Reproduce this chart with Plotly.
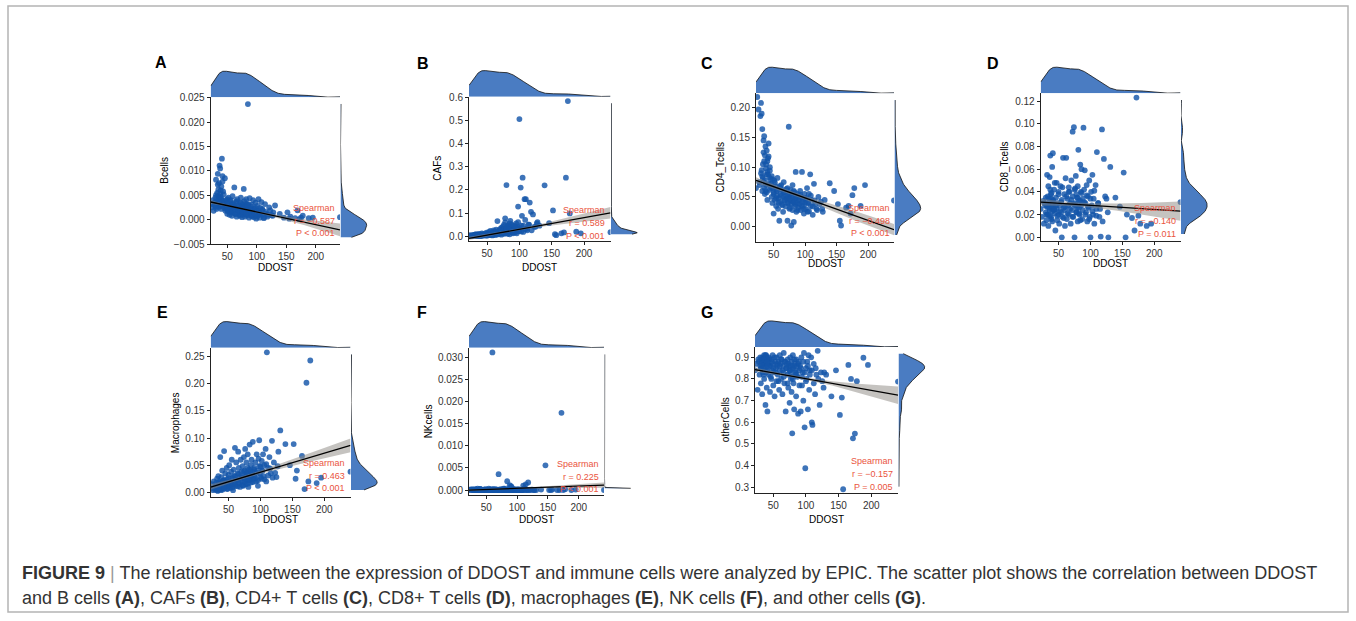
import numpy as np
import plotly.graph_objects as go

W, H = 1356, 621

# ---------------- data ----------------
DDOST = ([22, 24, 26, 27, 29] +
         [30, 30, 31, 32, 32, 33, 34, 34, 35, 36, 36, 37, 38, 38, 39, 40, 40, 41, 42, 43, 44, 45] +
         [46, 47, 47, 48, 49, 50, 50, 51, 52, 53, 54, 55, 55, 56, 57, 58, 59, 60, 60, 61, 62, 63, 64, 65, 66, 66, 67, 68, 69, 70] +
         [71, 72, 72, 73, 74, 75, 75, 76, 77, 78, 78, 79, 80, 80, 81, 82, 83, 84, 85, 85, 86, 87, 88, 89, 90] +
         [91, 92, 93, 94, 95, 96, 97, 98, 99, 100] +
         [101, 102, 103, 104, 105, 106, 108, 109, 110, 112, 114, 116, 118, 121, 125, 128] +
         [131, 139, 146, 152, 155, 157, 165, 169, 172, 175, 178, 188, 195, 241] +
         [28, 31, 33, 35, 37, 39, 41, 43, 44, 46, 48, 50, 52, 54, 56, 58, 60, 62, 64, 66, 68, 70, 72, 74,
          76, 78, 80, 82, 84, 86, 88, 90, 92, 94, 96, 98, 100, 103, 106, 109, 112, 115, 119, 123, 127, 34, 38, 42] +
         [32, 35, 36, 39, 40, 41, 43, 76, 79, 82, 84])

BCELLS = ([0.0032, 0.0025, 0.0040, 0.0018, 0.0035] +
          [0.0028, 0.0045, 0.0082, 0.0022, 0.0038, 0.0055, 0.0030, 0.0094, 0.0048, 0.0075, 0.0026, 0.0111, 0.0105, 0.0036, 0.0060, 0.0068, 0.0042, 0.0125, 0.0089, 0.0033, 0.0052, 0.0024] +
          [0.0085, 0.0030, 0.0018, 0.0040, 0.0025, 0.0012, 0.0035, 0.0020, 0.0045, 0.0028, 0.0010, 0.0038, 0.0022, 0.0015, 0.0032, 0.0008, 0.0048, 0.0026, 0.0014, 0.0030, 0.0066, 0.0020, 0.0012, 0.0036, 0.0024, 0.0006, 0.0042, 0.0018, 0.0028, 0.0010] +
          [0.0022, 0.0035, 0.0008, 0.0045, 0.0015, 0.0026, 0.0005, 0.0030, 0.0018, 0.0063, 0.0012, 0.0038, 0.0020, 0.0006, 0.0028, 0.0042, 0.0010, 0.0024, 0.0237, 0.0016, 0.0032, 0.0004, 0.0044, 0.0014, 0.0022] +
          [0.0008, 0.0030, 0.0016, 0.0040, 0.0005, 0.0022, 0.0012, 0.0035, 0.0002, 0.0018] +
          [0.0028, 0.0008, 0.0042, 0.0014, 0.0004, 0.0024, 0.0036, 0.0010, 0.0020, 0.0003, 0.0032, 0.0012, 0.0006, 0.0025, 0.0009, 0.0015] +
          [0.0029, 0.0012, 0.0004, 0.0015, 0.0002, 0.0006, 0.0003, 0.0019, 0.0001, 0.0004, 0.0008, 0.0003, 0.0004, 0.0005] +
          [0.0030, 0.0050, 0.0035, 0.0062, 0.0045, 0.0028, 0.0040, 0.0058, 0.0031, 0.0036, 0.0022, 0.0042,
           0.0017, 0.0027, 0.0040, 0.0019, 0.0033, 0.0025, 0.0012, 0.0038, 0.0021, 0.0029, 0.0016, 0.0034,
           0.0011, 0.0026, 0.0019, 0.0031, 0.0009, 0.0023, 0.0015, 0.0027, 0.0007, 0.0020, 0.0013, 0.0024,
           0.0006, 0.0018, 0.0011, 0.0022, 0.0005, 0.0016, 0.0010, 0.0019, 0.0008, 0.0072, 0.0053, 0.0078] +
          [0.0026, 0.0041, 0.0033, 0.0047, 0.0022, 0.0036, 0.0029, 0.0017, 0.0024, 0.0013, 0.0031])

CAFS = ([0.002, 0.004, 0.001, 0.003, 0.005] +
        [0.003, 0.001, 0.006, 0.002, 0.004, 0.008, 0.002, 0.005, 0.001, 0.003, 0.007, 0.004, 0.002, 0.010, 0.003, 0.006, 0.001, 0.004, 0.012, 0.003, 0.008, 0.005] +
        [0.004, 0.010, 0.002, 0.006, 0.015, 0.003, 0.008, 0.012, 0.005, 0.018, 0.004, 0.009, 0.022, 0.006, 0.011, 0.003, 0.016, 0.025, 0.007, 0.013, 0.020, 0.005, 0.028, 0.010, 0.065, 0.015, 0.008, 0.024, 0.012, 0.030] +
        [0.018, 0.035, 0.006, 0.022, 0.040, 0.012, 0.028, 0.048, 0.010, 0.059, 0.077, 0.020, 0.221, 0.032, 0.015, 0.045, 0.025, 0.038, 0.008, 0.055, 0.066, 0.018, 0.030, 0.042, 0.012] +
        [0.025, 0.045, 0.015, 0.035, 0.055, 0.020, 0.040, 0.128, 0.030, 0.507] +
        [0.035, 0.210, 0.020, 0.088, 0.253, 0.045, 0.160, 0.030, 0.160, 0.025, 0.050, 0.145, 0.105, 0.094, 0.040, 0.060] +
        [0.045, 0.220, 0.056, 0.111, 0.008, 0.004, 0.012, 0.016, 0.253, 0.585, 0.098, 0.019, 0.012, 0.017] +
        [0.001, 0.003, 0.002, 0.004, 0.001, 0.005, 0.002, 0.006, 0.003, 0.004, 0.007, 0.002,
         0.009, 0.005, 0.012, 0.004, 0.010, 0.006, 0.014, 0.008, 0.018, 0.010, 0.025, 0.012,
         0.030, 0.015, 0.035, 0.010, 0.042, 0.020, 0.050, 0.015, 0.028, 0.038, 0.012, 0.060,
         0.022, 0.045, 0.018, 0.070, 0.032, 0.050, 0.025, 0.040, 0.055, 0.002, 0.003, 0.004] +
        [0.002, 0.001, 0.003, 0.002, 0.004, 0.001, 0.003, 0.015, 0.022, 0.012, 0.028])

CD4_TCELLS = ([0.065, 0.218, 0.197, 0.075, 0.186] +
              [0.208, 0.090, 0.190, 0.060, 0.164, 0.105, 0.145, 0.075, 0.152, 0.120, 0.055, 0.135, 0.098, 0.070, 0.128, 0.110, 0.045, 0.088, 0.140, 0.062, 0.100, 0.080] +
              [0.072, 0.050, 0.085, 0.040, 0.065, 0.022, 0.058, 0.078, 0.045, 0.068, 0.035, 0.060, 0.052, 0.082, 0.030, 0.048, 0.010, 0.066, 0.042, 0.055, 0.070, 0.038, 0.062, 0.025, 0.050, 0.075, 0.044, 0.058, 0.034, 0.052] +
              [0.048, 0.010, 0.065, 0.040, 0.168, 0.055, 0.030, 0.045, 0.062, 0.002, 0.038, 0.052, 0.028, 0.070, 0.042, 0.008, 0.058, 0.035, 0.092, 0.048, 0.025, 0.040, 0.055, 0.032, 0.044] +
              [0.038, 0.060, 0.028, 0.050, 0.092, 0.035, 0.045, 0.022, 0.055, 0.040] +
              [0.030, 0.048, 0.065, 0.025, 0.040, 0.055, 0.088, 0.035, 0.045, 0.020, 0.072, 0.038, 0.030, 0.050, 0.042, 0.025] +
              [0.045, 0.073, 0.060, 0.038, 0.010, 0.002, 0.032, 0.035, 0.022, 0.053, 0.065, 0.035, 0.070, 0.044] +
              [0.070, 0.095, 0.082, 0.110, 0.060, 0.088, 0.115, 0.072, 0.094, 0.065, 0.080, 0.055,
               0.074, 0.048, 0.062, 0.040, 0.068, 0.052, 0.036, 0.058, 0.045, 0.063, 0.040, 0.050,
               0.032, 0.056, 0.044, 0.060, 0.038, 0.050, 0.028, 0.046, 0.054, 0.036, 0.042, 0.030,
               0.048, 0.040, 0.026, 0.052, 0.034, 0.044, 0.028, 0.038, 0.030, 0.125, 0.105, 0.118] +
              [0.085, 0.066, 0.078, 0.058, 0.092, 0.071, 0.083, 0.047, 0.056, 0.041, 0.050])

CD8_TCELLS = ([0.025, 0.018, 0.032, 0.012, 0.028] +
              [0.022, 0.035, 0.015, 0.055, 0.028, 0.020, 0.045, 0.010, 0.030, 0.053, 0.024, 0.072, 0.018, 0.038, 0.026, 0.062, 0.014, 0.074, 0.032, 0.042, 0.021, 0.006] +
              [0.035, 0.025, 0.048, 0.015, 0.030, 0.020, 0.040, 0.012, 0.028, 0.045, 0.022, 0.000, 0.033, 0.018, 0.070, 0.026, 0.038, 0.010, 0.024, 0.052, 0.070, 0.016, 0.034, 0.028, 0.044, 0.020, 0.040, 0.030, 0.012, 0.050] +
              [0.024, 0.093, 0.036, 0.018, 0.097, 0.042, 0.000, 0.030, 0.054, 0.022, 0.038, 0.026, 0.045, 0.014, 0.077, 0.032, 0.020, 0.064, 0.040, 0.028, 0.060, 0.016, 0.034, 0.0965, 0.042] +
              [0.059, 0.030, 0.022, 0.046, 0.014, 0.036, 0.026, 0.050, 0.018, 0.000] +
              [0.040, 0.028, 0.055, 0.020, 0.034, 0.012, 0.046, 0.025, 0.075, 0.030, 0.018, 0.0006, 0.095, 0.069, 0.034, 0.000] +
              [0.062, 0.035, 0.027, 0.057, 0.000, 0.020, 0.017, 0.006, 0.123, 0.019, 0.012, 0.010, 0.012, 0.031] +
              [0.030, 0.020, 0.036, 0.026, 0.042, 0.016, 0.033, 0.024, 0.048, 0.028, 0.019, 0.038,
               0.023, 0.031, 0.044, 0.017, 0.027, 0.036, 0.021, 0.040, 0.025, 0.033, 0.018, 0.029,
               0.043, 0.022, 0.035, 0.026, 0.015, 0.039, 0.024, 0.031, 0.020, 0.037, 0.027, 0.016,
               0.034, 0.023, 0.041, 0.019, 0.030, 0.025, 0.014, 0.036, 0.022, 0.029, 0.034, 0.027] +
              [0.027, 0.034, 0.019, 0.039, 0.023, 0.030, 0.025, 0.028, 0.035, 0.021, 0.032])

MACROPHAGES = ([0.008, 0.015, 0.004, 0.020, 0.010] +
               [0.012, 0.005, 0.018, 0.008, 0.025, 0.003, 0.014, 0.030, 0.006, 0.020, 0.010, 0.065, 0.016, 0.004, 0.028, 0.012, 0.040, 0.008, 0.022, 0.076, 0.015, 0.035] +
               [0.010, 0.024, 0.045, 0.006, 0.018, 0.032, 0.012, 0.050, 0.020, 0.008, 0.038, 0.015, 0.060, 0.026, 0.004, 0.042, 0.018, 0.030, 0.082, 0.012, 0.055, 0.022, 0.035, 0.075, 0.016, 0.045, 0.028, 0.010, 0.060, 0.038] +
               [0.020, 0.048, 0.030, 0.012, 0.065, 0.025, 0.040, 0.080, 0.015, 0.035, 0.055, 0.022, 0.070, 0.045, 0.010, 0.032, 0.088, 0.028, 0.050, 0.018, 0.060, 0.038, 0.093, 0.025, 0.042] +
               [0.030, 0.055, 0.020, 0.070, 0.040, 0.012, 0.062, 0.096, 0.035, 0.048] +
               [0.025, 0.058, 0.040, 0.070, 0.030, 0.050, 0.080, 0.020, 0.258, 0.045, 0.065, 0.035, 0.095, 0.055, 0.028, 0.075] +
               [0.114, 0.089, 0.050, 0.089, 0.025, 0.040, 0.067, 0.006, 0.202, 0.020, 0.243, 0.017, 0.027, 0.038] +
               [0.006, 0.012, 0.003, 0.018, 0.009, 0.014, 0.005, 0.022, 0.011, 0.016, 0.007, 0.026,
                0.013, 0.020, 0.009, 0.030, 0.015, 0.024, 0.011, 0.034, 0.018, 0.027, 0.013, 0.038,
                0.020, 0.030, 0.016, 0.042, 0.023, 0.033, 0.019, 0.045, 0.026, 0.036, 0.022, 0.048,
                0.028, 0.040, 0.024, 0.052, 0.031, 0.044, 0.027, 0.036, 0.048, 0.010, 0.007, 0.013] +
               [0.009, 0.014, 0.006, 0.017, 0.011, 0.020, 0.008, 0.028, 0.036, 0.024, 0.040])

NKCELLS = ([0.0, 0.0001, 0.0, 0.0002, 0.0] +
           [0.0, 0.0001, 0.0, 0.0, 0.0002, 0.0, 0.0001, 0.0, 0.0, 0.0003, 0.0, 0.0, 0.0001, 0.0, 0.0, 0.0002, 0.0, 0.0, 0.0001, 0.0, 0.0, 0.0] +
           [0.0, 0.0001, 0.0, 0.0, 0.0002, 0.0, 0.0, 0.0001, 0.0, 0.0, 0.0003, 0.0, 0.0, 0.0001, 0.0, 0.0, 0.0002, 0.0312, 0.0, 0.0, 0.0001, 0.0, 0.0, 0.0002, 0.0, 0.0, 0.0001, 0.0, 0.0, 0.0036] +
           [0.0, 0.0001, 0.0, 0.0, 0.0002, 0.0, 0.0, 0.0001, 0.0, 0.0, 0.0003, 0.0, 0.0, 0.0001, 0.0, 0.0, 0.0, 0.0020, 0.0, 0.0002, 0.0, 0.0, 0.0011, 0.0001, 0.0009] +
           [0.0007, 0.0, 0.0001, 0.0, 0.0, 0.0002, 0.0, 0.0, 0.0001, 0.0] +
           [0.0, 0.0002, 0.0, 0.0, 0.0001, 0.0, 0.0, 0.0, 0.0010, 0.0, 0.0013, 0.0, 0.0017, 0.0, 0.0001, 0.0] +
           [0.0, 0.0001, 0.0056, 0.0, 0.0, 0.0001, 0.0, 0.0, 0.0175, 0.0, 0.0002, 0.0, 0.0001, 0.0] +
           [0.0, 0.0, 0.0001, 0.0, 0.0, 0.0, 0.0002, 0.0, 0.0, 0.0001, 0.0, 0.0,
            0.0, 0.0, 0.0001, 0.0, 0.0, 0.0002, 0.0, 0.0, 0.0, 0.0001, 0.0, 0.0,
            0.0, 0.0, 0.0003, 0.0, 0.0, 0.0001, 0.0, 0.0, 0.0, 0.0002, 0.0, 0.0,
            0.0001, 0.0, 0.0, 0.0, 0.0004, 0.0, 0.0, 0.0001, 0.0, 0.0, 0.0, 0.0] +
           [0.0, 0.0001, 0.0, 0.0, 0.0002, 0.0, 0.0, 0.0, 0.0001, 0.0, 0.0])

OTHERCELLS = ([0.84, 0.87, 0.75, 0.89, 0.82] +
              [0.86, 0.90, 0.78, 0.88, 0.85, 0.73, 0.89, 0.83, 0.87, 0.91, 0.80, 0.86, 0.68, 0.88, 0.84, 0.76, 0.90, 0.65, 0.87, 0.82, 0.89, 0.74] +
              [0.86, 0.80, 0.89, 0.84, 0.91, 0.77, 0.87, 0.83, 0.72, 0.88, 0.85, 0.90, 0.79, 0.86, 0.82, 0.88, 0.75, 0.91, 0.84, 0.87, 0.80, 0.89, 0.73, 0.86, 0.83, 0.92, 0.78, 0.88, 0.65, 0.85] +
              [0.87, 0.82, 0.89, 0.76, 0.86, 0.69, 0.84, 0.90, 0.80, 0.88, 0.74, 0.549, 0.85, 0.91, 0.78, 0.66, 0.87, 0.83, 0.89, 0.72, 0.86, 0.81, 0.64, 0.88, 0.84] +
              [0.86, 0.65, 0.90, 0.77, 0.83, 0.70, 0.92, 0.577, 0.388, 0.85] +
              [0.80, 0.88, 0.66, 0.91, 0.75, 0.84, 0.90, 0.60, 0.588, 0.87, 0.73, 0.82, 0.93, 0.68, 0.79, 0.83] +
              [0.82, 0.72, 0.84, 0.634, 0.714, 0.291, 0.865, 0.80, 0.526, 0.548, 0.79, 0.898, 0.865, 0.788] +
              [0.88, 0.85, 0.90, 0.82, 0.87, 0.91, 0.84, 0.89, 0.86, 0.81, 0.88, 0.85,
               0.90, 0.83, 0.87, 0.79, 0.86, 0.89, 0.84, 0.81, 0.88, 0.85, 0.78, 0.87,
               0.83, 0.86, 0.80, 0.89, 0.84, 0.82, 0.87, 0.77, 0.85, 0.81, 0.88, 0.83,
               0.79, 0.86, 0.82, 0.84, 0.78, 0.85, 0.80, 0.83, 0.76, 0.89, 0.91, 0.87] +
              [0.87, 0.85, 0.89, 0.83, 0.88, 0.86, 0.90, 0.84, 0.81, 0.86, 0.82])

# regression line (at the two ends of DDOST) and 95% band read at FIT_X
FIT_X = [22, 60, 100, 140, 180, 241]
A_LINE = [0.00362, -0.00209]
A_LO = [0.00327, 0.00248, 0.00143, 0.00024, -0.00110, -0.00340]
A_HI = [0.00397, 0.00278, 0.00173, 0.00084, 0.00010, -0.00080]
B_LINE = [-0.010, 0.101]
B_LO = [-0.017, 0.0053, 0.0255, 0.0428, 0.0571, 0.076]
B_HI = [-0.003, 0.0133, 0.0335, 0.0568, 0.0831, 0.126]
C_LINE = [0.078, -0.005]
C_LO = [0.073, 0.0606, 0.0454, 0.0283, 0.0101, -0.0145]
C_HI = [0.083, 0.0666, 0.0514, 0.0383, 0.0261, 0.0045]
D_LINE = [0.0309, 0.0231]
D_LO = [0.0279, 0.0277, 0.0263, 0.0237, 0.0203, 0.0146]
D_HI = [0.0339, 0.0313, 0.0299, 0.0297, 0.0303, 0.0316]
E_LINE = [0.0097, 0.0865]
E_LO = [0.0047, 0.0200, 0.0341, 0.0461, 0.0572, 0.0740]
E_HI = [0.0147, 0.0260, 0.0401, 0.0561, 0.0732, 0.0990]
F_LINE = [-0.00002, 0.00112]
F_LO = [-0.00022, 0.00006, 0.00027, 0.00039, 0.00045, 0.00052]
F_HI = [0.00018, 0.00030, 0.00051, 0.00079, 0.00115, 0.00172]
G_LINE = [0.843, 0.725]
G_LO = [0.833, 0.8165, 0.795, 0.7694, 0.7378, 0.685]
G_HI = [0.853, 0.8285, 0.807, 0.7894, 0.7778, 0.765]

X_TICKS = [50, 100, 150, 200]
A_YTICKS = [-0.005, 0.0, 0.005, 0.010, 0.015, 0.020, 0.025]
A_YTEXT = ["\u22120.005", "0.000", "0.005", "0.010", "0.015", "0.020", "0.025"]
B_YTICKS = [0.0, 0.1, 0.2, 0.3, 0.4, 0.5, 0.6]
B_YTEXT = ["0.0", "0.1", "0.2", "0.3", "0.4", "0.5", "0.6"]
C_YTICKS = [0.0, 0.05, 0.10, 0.15, 0.20]
C_YTEXT = ["0.00", "0.05", "0.10", "0.15", "0.20"]
D_YTICKS = [0.0, 0.02, 0.04, 0.06, 0.08, 0.10, 0.12]
D_YTEXT = ["0.00", "0.02", "0.04", "0.06", "0.08", "0.10", "0.12"]
E_YTICKS = [0.0, 0.05, 0.10, 0.15, 0.20, 0.25]
E_YTEXT = ["0.00", "0.05", "0.10", "0.15", "0.20", "0.25"]
F_YTICKS = [0.0, 0.005, 0.010, 0.015, 0.020, 0.025, 0.030]
F_YTEXT = ["0.000", "0.005", "0.010", "0.015", "0.020", "0.025", "0.030"]
G_YTICKS = [0.3, 0.4, 0.5, 0.6, 0.7, 0.8, 0.9]
G_YTEXT = ["0.3", "0.4", "0.5", "0.6", "0.7", "0.8", "0.9"]

STAT_R = ["r = \u22120.587", "r = 0.589", "r = \u22120.498", "r = \u22120.140",
          "r = 0.463", "r = 0.225", "r = \u22120.157"]
STAT_P = ["P < 0.001", "P < 0.001", "P < 0.001", "P = 0.011",
          "P < 0.001", "P < 0.001", "P = 0.005"]
Y_TITLES = ["Bcells", "CAFs", "CD4_Tcells", "CD8_Tcells", "Macrophages", "NKcells", "otherCells"]
LETTERS = ["A", "B", "C", "D", "E", "F", "G"]

CAPTION_1 = ("<b>FIGURE 9</b> <span style='color:#9a9a9a'>|</span> The relationship between the expression of DDOST "
             "and immune cells were analyzed by EPIC. The scatter plot shows the correlation between DDOST")
CAPTION_2 = ("and B cells <b>(A)</b>, CAFs <b>(B)</b>, CD4+ T cells <b>(C)</b>, CD8+ T cells <b>(D)</b>, "
             "macrophages <b>(E)</b>, NK cells <b>(F)</b>, and other cells <b>(G)</b>.")

SERIES = [BCELLS, CAFS, CD4_TCELLS, CD8_TCELLS, MACROPHAGES, NKCELLS, OTHERCELLS]
LINES = [A_LINE, B_LINE, C_LINE, D_LINE, E_LINE, F_LINE, G_LINE]
LOS = [A_LO, B_LO, C_LO, D_LO, E_LO, F_LO, G_LO]
HIS = [A_HI, B_HI, C_HI, D_HI, E_HI, F_HI, G_HI]
YTICKS = [A_YTICKS, B_YTICKS, C_YTICKS, D_YTICKS, E_YTICKS, F_YTICKS, G_YTICKS]
YTEXTS = [A_YTEXT, B_YTEXT, C_YTEXT, D_YTEXT, E_YTEXT, F_YTEXT, G_YTEXT]

# ---------------- layout geometry ----------------
# main panel box in pixels: (left, top, right, bottom) and y-axis ranges of the main panels
BOX = [(210.7, 97.3, 340.0, 244.0), (469.0, 96.7, 610.5, 240.7), (756.0, 93.3, 894.0, 241.7),
       (1040.7, 93.3, 1180.5, 240.7), (210.7, 347.7, 350.5, 496.7), (469.0, 347.7, 604.0, 495.0),
       (755.0, 347.0, 898.0, 493.3)]
Y_RANGE = [(-0.0050, 0.0251), (-0.020, 0.604), (-0.0252, 0.2242), (-0.0030, 0.1268),
           (-0.0081, 0.2666), (-0.00113, 0.03227), (0.2723, 0.9475)]
LETTER_POS = [(161, 62), (423, 63), (707, 63), (993, 63), (162, 312), (422, 312), (707, 312)]
YTITLE_X = [165, 438, 720, 1005, 175, 428, 725]
XTITLE_Y = [268, 268, 263.5, 263.5, 519, 519, 519]
STAT_RIGHT = [337.3, 607.3, 891.7, 1177.7, 346.7, 600.5, 895.0]
STAT_PY = [233.3, 236.0, 233.3, 234.0, 488.3, 489.3, 486.7]

FONT = "Liberation Sans, Arial, sans-serif"
PT_COLOR = "rgba(20,85,170,0.82)"
DENS_FILL = "#4A7CC2"
RED = "#EA5440"


def px(x):
    return x / W


def py(y):
    return 1 - y / H


def kde(vals, lo, hi, n=512):
    v = np.asarray(vals, dtype=float)
    m = len(v)
    sd = v.std(ddof=1)
    q75, q25 = np.percentile(v, [75, 25])
    s = min(sd, (q75 - q25) / 1.34) if q75 > q25 else sd
    bw = 0.9 * s * m ** -0.2
    grid = np.linspace(lo, hi, n)
    dens = np.exp(-0.5 * ((grid[:, None] - v[None, :]) / bw) ** 2).sum(1) / (m * bw * np.sqrt(2 * np.pi))
    return grid, dens


def expand(lo, hi, f=0.05):
    s = hi - lo
    return [lo - f * s, hi + f * s]


def sfx(n):
    return "" if n == 1 else str(n)


fig = go.Figure()
layout = dict(width=W, height=H, autosize=False,
              margin=dict(l=0, r=0, t=0, b=0, pad=0, autoexpand=False),
              paper_bgcolor="white", plot_bgcolor="white", showlegend=False)
annotations = []

xr = [min(DDOST), max(DDOST)]
gx, dx = kde(DDOST, xr[0], xr[1])

for i in range(7):
    ys = SERIES[i]
    assert len(ys) == len(DDOST)
    L, T, R, B = BOX[i]
    m, t, r = 3 * i + 1, 3 * i + 2, 3 * i + 3
    yr_pts = expand(min(ys), max(ys))
    gy, dy = kde(ys, min(ys), max(ys))

    axis_common = dict(showline=True, linecolor="#222", linewidth=1, ticks="outside", ticklen=3,
                       tickwidth=1, tickcolor="#222", showgrid=False, zeroline=False, automargin=False,
                       tickfont=dict(family=FONT, size=10, color="#333"))
    hidden = dict(visible=False, automargin=False, showgrid=False, zeroline=False)
    layout["xaxis" + sfx(m)] = dict(domain=[px(L), px(R)], range=xr, anchor="y" + sfx(m),
                                    tickvals=X_TICKS, **axis_common)
    layout["yaxis" + sfx(m)] = dict(domain=[py(B), py(T)], range=list(Y_RANGE[i]), anchor="x" + sfx(m),
                                    tickvals=YTICKS[i], ticktext=YTEXTS[i], **axis_common)
    layout["xaxis" + sfx(t)] = dict(domain=[px(L), px(R)], range=xr, anchor="y" + sfx(t), **hidden)
    layout["yaxis" + sfx(t)] = dict(domain=[py(T), py(T - 27.5)], range=[0, dx.max() * 1.05],
                                    anchor="x" + sfx(t), **hidden)
    layout["xaxis" + sfx(r)] = dict(domain=[px(R + 0.5), px(R + 28)], range=[0, dy.max() * 1.05],
                                    anchor="y" + sfx(r), **hidden)
    layout["yaxis" + sfx(r)] = dict(domain=[py(B), py(T)], range=yr_pts, anchor="x" + sfx(r), **hidden)

    xa, ya = "x" + sfx(m), "y" + sfx(m)
    fig.add_trace(go.Scatter(x=DDOST, y=ys, mode="markers", xaxis=xa, yaxis=ya,
                             marker=dict(size=5.8, color=PT_COLOR, line=dict(width=0))))
    fig.add_trace(go.Scatter(x=FIT_X + FIT_X[::-1], y=HIS[i] + LOS[i][::-1], mode="lines",
                             fill="toself", fillcolor="rgba(140,135,130,0.5)", line=dict(width=0),
                             xaxis=xa, yaxis=ya))
    fig.add_trace(go.Scatter(x=[FIT_X[0], FIT_X[-1]], y=LINES[i], mode="lines",
                             line=dict(color="black", width=1.3), xaxis=xa, yaxis=ya))
    fig.add_trace(go.Scatter(x=gx, y=dx, mode="lines", fill="tozeroy", fillcolor=DENS_FILL,
                             line=dict(color="#111", width=0.8), xaxis="x" + sfx(t), yaxis="y" + sfx(t)))
    fig.add_trace(go.Scatter(x=dy, y=gy, mode="lines", fill="tozerox", fillcolor=DENS_FILL,
                             line=dict(color="#111", width=0.8), xaxis="x" + sfx(r), yaxis="y" + sfx(r)))

    annotations.append(dict(x=px(LETTER_POS[i][0]), y=py(LETTER_POS[i][1]), xref="paper", yref="paper",
                            text="<b>%s</b>" % LETTERS[i], showarrow=False, xanchor="center", yanchor="middle",
                            font=dict(family=FONT, size=16, color="black")))
    annotations.append(dict(x=px(YTITLE_X[i]), y=py((T + B) / 2), xref="paper", yref="paper",
                            text=Y_TITLES[i], textangle=-90, showarrow=False, xanchor="center",
                            yanchor="middle", font=dict(family=FONT, size=10, color="black")))
    annotations.append(dict(x=px((L + R) / 2), y=py(XTITLE_Y[i]), xref="paper", yref="paper",
                            text="DDOST", showarrow=False, xanchor="center", yanchor="middle",
                            font=dict(family=FONT, size=10, color="black")))
    for k, s in enumerate(["Spearman", STAT_R[i], STAT_P[i]]):
        annotations.append(dict(x=px(STAT_RIGHT[i]), y=py(STAT_PY[i] - (2 - k) * 12.8), xref="paper",
                                yref="paper", text=s, showarrow=False, xanchor="right", yanchor="middle",
                                font=dict(family=FONT, size=9, color=RED)))

annotations.append(dict(x=px(20), y=py(573), xref="paper", yref="paper", text=CAPTION_1, showarrow=False,
                        xanchor="left", yanchor="middle", font=dict(family=FONT, size=18, color="#333")))
annotations.append(dict(x=px(20), y=py(598), xref="paper", yref="paper", text=CAPTION_2, showarrow=False,
                        xanchor="left", yanchor="middle", font=dict(family=FONT, size=18, color="#333")))

layout["annotations"] = annotations
layout["shapes"] = [dict(type="rect", xref="paper", yref="paper", x0=px(8), x1=px(1348), y0=py(612), y1=py(6),
                         line=dict(color="#b4b4b4", width=1.5), fillcolor="rgba(0,0,0,0)", layer="below")]
fig.update_layout(**layout)
fig.write_html("out.html")
